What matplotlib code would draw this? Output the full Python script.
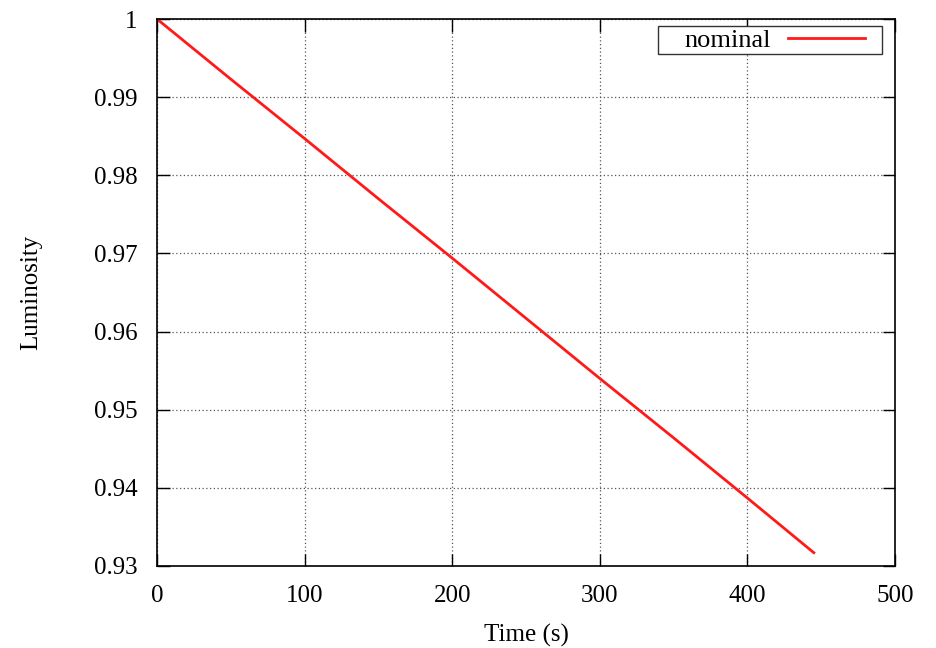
import matplotlib
matplotlib.use("Agg")
import matplotlib.pyplot as plt
from matplotlib.patches import Rectangle

# luminosity decay over the fill, nominal scenario
time_s = [0, 50, 100, 150, 200, 250, 300, 350, 400, 445]
luminosity = [1.0, 0.9923, 0.9847, 0.9770, 0.9694, 0.9617, 0.9540, 0.9464, 0.9387, 0.9317]
series_label = "nominal"

x_ticks = [0, 100, 200, 300, 400, 500]
y_ticks = [0.93, 0.94, 0.95, 0.96, 0.97, 0.98, 0.99, 1.0]
y_tick_labels = ["0.93", "0.94", "0.95", "0.96", "0.97", "0.98", "0.99", "1"]

plt.rcParams['font.family'] = ['Liberation Serif', 'DejaVu Serif']
plt.rcParams['font.size'] = 18

fig = plt.figure(figsize=(9.36, 6.48), dpi=100)
ax = fig.add_axes([157 / 936, 1 - 566 / 648, 738 / 936, 547 / 648])

ax.plot(time_s, luminosity, color='#ff1a1a', lw=2.0, label=series_label)

ax.set_xlim(0, 500)
ax.set_ylim(0.93, 1.0)
ax.set_xticks(x_ticks)
ax.set_yticks(y_ticks)
ax.set_yticklabels(y_tick_labels)
ax.tick_params(direction='in', length=9, width=1, top=True, right=True, pad=14)

ax.grid(True, linestyle=(0, (1, 2)), color='#555555', linewidth=0.9)
ax.set_axisbelow(True)
for sp in ax.spines.values():
    sp.set_linewidth(1.2)

ax.set_xlabel("Time (s)", labelpad=12)
ax.set_ylabel("Luminosity", labelpad=37)

# gnuplot-style key: label first, sample line to the right, plain box
leg = ax.legend(loc='center right', bbox_to_anchor=(0.9593, 0.9616),
                borderaxespad=0, borderpad=0, frameon=False, markerfirst=False,
                handlelength=2.9, handletextpad=0.65, fontsize=19)
ax.add_patch(Rectangle((0.679, 0.936), 0.303, 0.051, transform=ax.transAxes,
                       facecolor='white', edgecolor='#333333', lw=1.0, zorder=4))
leg.set_zorder(5)

fig.savefig("out.png", dpi=100)
